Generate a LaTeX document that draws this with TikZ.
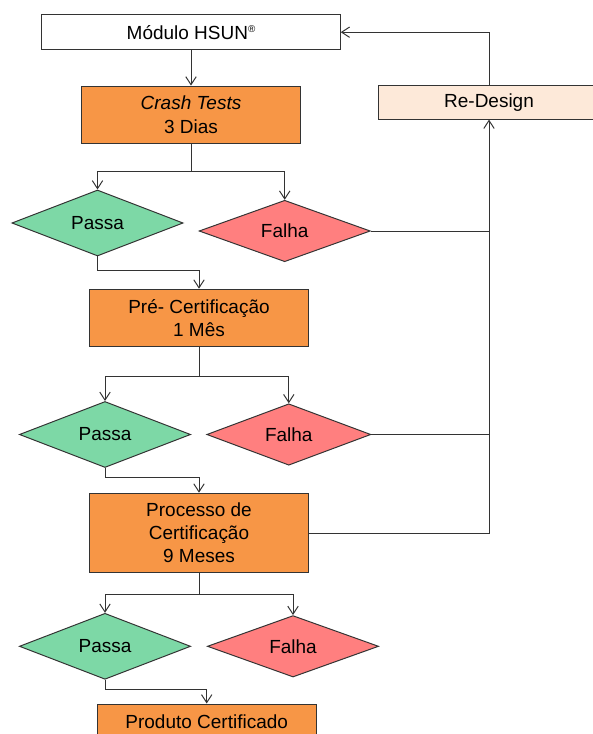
\documentclass[tikz,border=0pt]{standalone}
\usepackage{fontspec}
\setmainfont{Liberation Sans}
\usetikzlibrary{shapes.geometric, arrows.meta}

\definecolor{laranja}{HTML}{F79646}
\definecolor{laranjaclaro}{HTML}{FDE9D9}
\definecolor{verde}{HTML}{7DD8A6}
\definecolor{vermelho}{HTML}{FF7F7F}
\definecolor{traco}{HTML}{333333}

\begin{document}
\begin{tikzpicture}[x=0.025cm, y=-0.025cm,
    font=\fontsize{13.5}{16.5}\selectfont,
    caixa/.style={draw=traco, line width=0.7pt, inner sep=0pt, align=center},
    etapa/.style={caixa, fill=laranja, minimum width=5.48cm},
    decisao/.style={diamond, draw=traco, line width=0.7pt, inner sep=0pt,
      minimum width=4.28cm, minimum height=1.35cm},
    passa/.style={decisao, fill=verde},
    falha/.style={decisao, fill=vermelho},
    seta/.style={draw=traco, line width=0.7pt, -{Straight Barb[length=2mm, width=2.6mm]}},
    linha/.style={draw=traco, line width=0.7pt}]
  \useasboundingbox (0,0) rectangle (592,734);

  % caixas
  \node[caixa, fill=white, minimum width=7.46cm, minimum height=0.86cm] (modulo) at (191,32.2)
    {Módulo HSUN\raisebox{0.65ex}{\fontsize{7}{7}\selectfont ®}};
  \node[etapa, minimum height=1.43cm] (crash) at (191,114.7) {\textit{Crash Tests}\\3 Dias};
  \node[caixa, fill=laranjaclaro, minimum width=5.5cm, minimum height=0.83cm] (redesign) at (489,102.5)
    {Re-Design};
  \node[etapa, minimum height=1.44cm] (pre) at (199,318) {Pré- Certificação\\1 Mês};
  \node[etapa, minimum height=1.99cm] (processo) at (199,533)
    {Processo de\\Certificação\\9 Meses};
  \node[etapa, minimum height=0.9cm] (produto) at (206.7,722) {Produto Certificado};

  % decisoes
  \node[passa] (passa1) at (97.5,223) {Passa};
  \node[falha] (falha1) at (284.7,231) {Falha};
  \node[passa] (passa2) at (105,434.5) {Passa};
  \node[falha, minimum width=4.1cm] (falha2) at (288.8,434.5) {Falha};
  \node[passa] (passa3) at (105,646.3) {Passa};
  \node[falha] (falha3) at (293,646.3) {Falha};

  % pontos de ramificacao
  \coordinate (r1) at (191,171.7);
  \coordinate (j1) at (199,270);
  \coordinate (r2) at (199,376.7);
  \coordinate (j2) at (199,477.3);
  \coordinate (r3) at (199,594.7);
  \coordinate (j3) at (206.7,689.3);

  % fluxo principal
  \draw[seta] (modulo.south) -- (crash.north);
  \draw[linha] (crash.south) -- (r1);
  \draw[seta] (r1) -| (passa1.north);
  \draw[seta] (r1) -| (falha1.north);
  \draw[seta] (passa1.south) |- (j1) -- (pre.north);

  \draw[linha] (pre.south) -- (r2);
  \draw[seta] (r2) -| (passa2.north);
  \draw[seta] (r2) -| (falha2.north);
  \draw[seta] (passa2.south) |- (j2) -- (processo.north);

  \draw[linha] (processo.south) -- (r3);
  \draw[seta] (r3) -| (passa3.north);
  \draw[seta] (r3) -| (falha3.north);
  \draw[seta] (passa3.south) |- (j3) -- (produto.north);

  % retorno para re-design
  \draw[linha] (falha1.east) -- (falha1.east -| redesign.south);
  \draw[linha] (falha2.east) -- (falha2.east -| redesign.south);
  \draw[seta] (processo.east) -| (redesign.south);
  \draw[seta] (redesign.north) |- (modulo.east);
\end{tikzpicture}
\end{document}
